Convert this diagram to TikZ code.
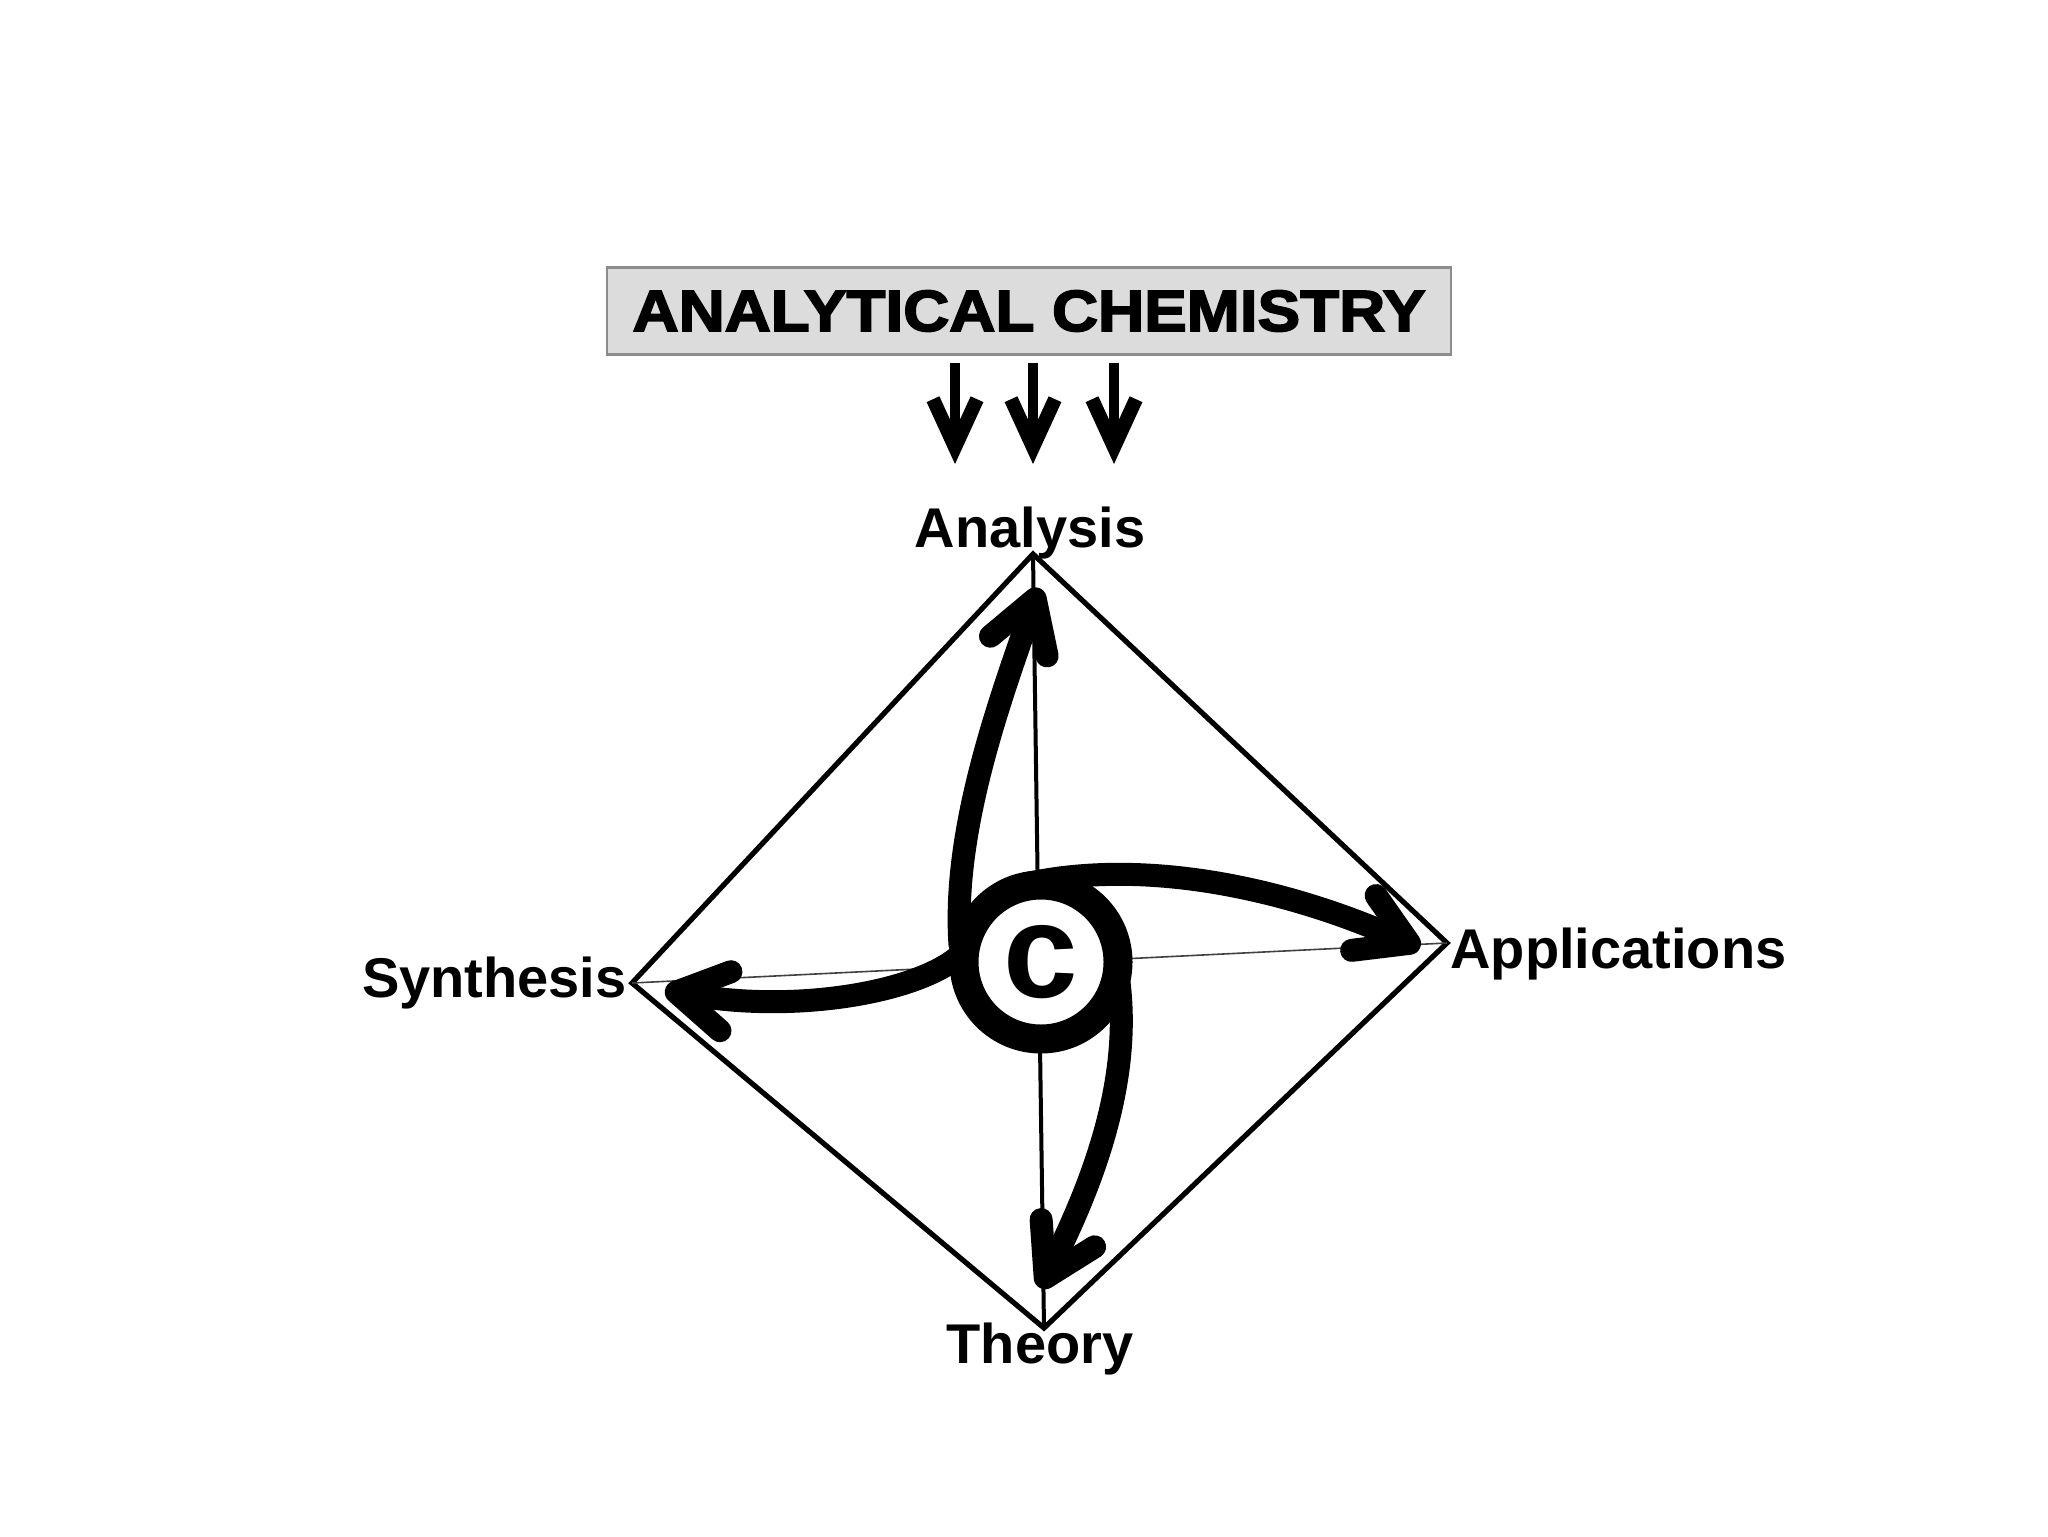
\documentclass[tikz,border=0pt]{standalone}
\usepackage{fontspec}
\setmainfont{Liberation Sans}
\newfontfamily\headfont{Liberation Sans}[FakeStretch=1.10,BoldFeatures={FakeBold=3}]
\usetikzlibrary{arrows.meta}
\definecolor{boxgray}{HTML}{DCDCDC}
\definecolor{boxedge}{HTML}{8C8C8C}
\tikzset{
  vlabel/.style={inner sep=0pt, font=\bfseries\fontsize{28}{32}\selectfont},
  headbox/.style={draw=boxedge, fill=boxgray, line width=1.2pt, minimum width=422pt,
    minimum height=43.5pt, inner sep=0pt, font=\headfont\bfseries\fontsize{29}{32}\selectfont},
  rim/.style={line width=2.6pt, line join=miter},
  axisline/.style={line width=2pt},
  thinaxis/.style={line width=0.8pt, black!75},
  downarrow/.style={line width=5pt, -{Straight Barb[length=24pt,width=22pt,line width=7pt]}},
  swirl/.style={line width=11.5pt, line cap=round, -{Straight Barb[length=25pt,width=30pt,round]}},
  core/.style={circle, draw, fill=white, line width=14.5pt, minimum size=77pt, inner sep=0pt,
    font=\bfseries\fontsize{67}{67}\selectfont},
}
\begin{document}
\begin{tikzpicture}[x=0.5pt,y=-0.5pt]
\useasboundingbox (0,0) rectangle (2048,1536);
% header
\node[headbox] (head) at (1029,311) {ANALYTICAL CHEMISTRY};
\foreach \x [count=\i] in {955,1033,1114} {
  \coordinate (s\i) at (\x,363);
  \coordinate (e\i) at (\x,464);
  \draw[downarrow] (s\i) -- (e\i);
}
% labels
\node[vlabel, anchor=base] (ana) at (1030,547) {Analysis};
\node[vlabel, anchor=base east] (syn) at (627,997) {Synthesis};
\node[vlabel, anchor=base west] (app) at (1450,968) {Applications};
\node[vlabel, anchor=base] (the) at (1040,1363) {Theory};
% diamond
\coordinate (vt) at (1033,554);
\coordinate (vr) at (1447,943);
\coordinate (vb) at (1044,1328);
\coordinate (vl) at (632,983);
\draw[rim] (vt) -- (vr) -- (vb) -- (vl) -- cycle;
\draw[axisline] (vt) -- (vb);
\draw[thinaxis] (vl) -- (vr);
% swirl arrows
\coordinate (upS) at (960,945); \coordinate (upE) at (1039,588);
\draw[swirl] (upS) .. controls (952,830) and (1000,700) .. (upE);
\coordinate (rtS) at (1030,883); \coordinate (rtE) at (1420,948);
\draw[swirl] (rtS) .. controls (1150,858) and (1290,890) .. (rtE);
\coordinate (dnS) at (1118,975); \coordinate (dnE) at (1040,1288);
\draw[swirl] (dnS) .. controls (1132,1070) and (1100,1170) .. (dnE);
\coordinate (lfS) at (965,950); \coordinate (lfE) at (665,990);
\draw[swirl] (lfS) .. controls (930,990) and (800,1015) .. (lfE);
% center
\node[core] (c) at (1041,962) {c};
\end{tikzpicture}
\end{document}
